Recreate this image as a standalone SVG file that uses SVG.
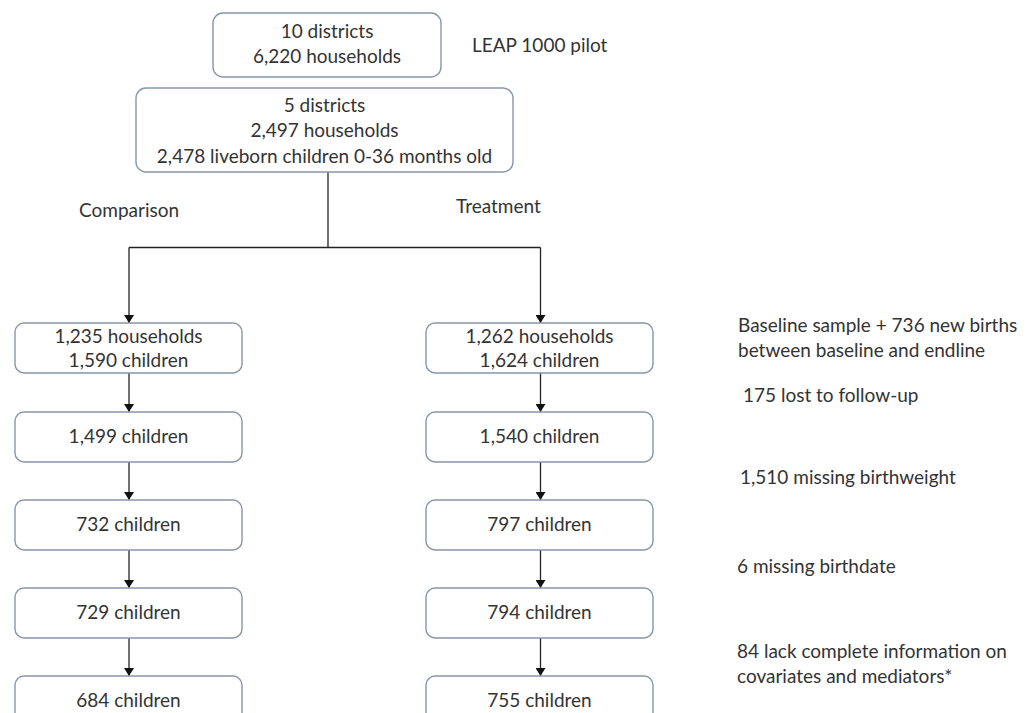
<svg xmlns="http://www.w3.org/2000/svg" width="1030" height="713" viewBox="0 0 1030 713">
<style>
.box{fill:#fff;stroke:#8796a8;stroke-width:1.4}
.t{font-family:Lato,"Liberation Sans",sans-serif;font-size:19px;fill:#333}
.m{text-anchor:middle}
.c{stroke:#222;stroke-width:1.3;fill:none}
</style>
<defs>
<marker id="ah" markerWidth="8" markerHeight="10" refX="8" refY="5" orient="auto" markerUnits="userSpaceOnUse">
<path d="M0,0 L8,5 L0,10 Z" fill="#111"/>
</marker>
</defs>
<rect width="1030" height="713" fill="#fff"/>
<g id="connectors">
<path class="c" d="M328,172 V247.5 M129,247.5 H540.5"/>
<path class="c" d="M129,247.5 V323" marker-end="url(#ah)"/>
<path class="c" d="M540.5,247.5 V323" marker-end="url(#ah)"/>
<path class="c" d="M129,373 V412" marker-end="url(#ah)"/>
<path class="c" d="M540.5,373 V412" marker-end="url(#ah)"/>
<path class="c" d="M129,462 V500" marker-end="url(#ah)"/>
<path class="c" d="M540.5,462 V500" marker-end="url(#ah)"/>
<path class="c" d="M129,550 V588" marker-end="url(#ah)"/>
<path class="c" d="M540.5,550 V588" marker-end="url(#ah)"/>
<path class="c" d="M129,638 V676" marker-end="url(#ah)"/>
<path class="c" d="M540.5,638 V676" marker-end="url(#ah)"/>
</g>
<g id="n-top">
<rect class="box" x="213" y="13" width="228" height="64" rx="10"/>
<text class="t m" x="327" y="38">10 districts</text>
<text class="t m" x="327" y="63">6,220 households</text>
</g>
<g id="n-five">
<rect class="box" x="136" y="88" width="377" height="84" rx="10"/>
<text class="t m" x="324.5" y="112">5 districts</text>
<text class="t m" x="324.5" y="137">2,497 households</text>
<text class="t m" x="324.5" y="163">2,478 liveborn children 0-36 months old</text>
</g>
<g id="lbl-leap"><text class="t" x="472" y="52">LEAP 1000 pilot</text></g>
<g id="lbl-comp"><text class="t" x="79" y="217">Comparison</text></g>
<g id="lbl-treat"><text class="t" x="456" y="213">Treatment</text></g>
<g id="c1">
<rect class="box" x="15" y="323" width="227" height="50" rx="9"/>
<text class="t m" x="128.5" y="343">1,235 households</text>
<text class="t m" x="128.5" y="367">1,590 children</text>
</g>
<g id="t1">
<rect class="box" x="426" y="323" width="227" height="50" rx="9"/>
<text class="t m" x="539.5" y="343">1,262 households</text>
<text class="t m" x="539.5" y="367">1,624 children</text>
</g>
<g id="c2"><rect class="box" x="15" y="412" width="227" height="50" rx="9"/><text class="t m" x="128.5" y="443">1,499 children</text></g>
<g id="t2"><rect class="box" x="426" y="412" width="227" height="50" rx="9"/><text class="t m" x="539.5" y="443">1,540 children</text></g>
<g id="c3"><rect class="box" x="15" y="500" width="227" height="50" rx="9"/><text class="t m" x="128.5" y="531">732 children</text></g>
<g id="t3"><rect class="box" x="426" y="500" width="227" height="50" rx="9"/><text class="t m" x="539.5" y="531">797 children</text></g>
<g id="c4"><rect class="box" x="15" y="588" width="227" height="50" rx="9"/><text class="t m" x="128.5" y="619">729 children</text></g>
<g id="t4"><rect class="box" x="426" y="588" width="227" height="50" rx="9"/><text class="t m" x="539.5" y="619">794 children</text></g>
<g id="c5"><rect class="box" x="15" y="676" width="227" height="50" rx="9"/><text class="t m" x="128.5" y="707">684 children</text></g>
<g id="t5"><rect class="box" x="426" y="676" width="227" height="50" rx="9"/><text class="t m" x="539.5" y="707">755 children</text></g>
<g id="notes">
<text class="t" x="738" y="332">Baseline sample + 736 new births</text>
<text class="t" x="738" y="357">between baseline and endline</text>
<text class="t" x="743" y="402">175 lost to follow-up</text>
<text class="t" x="740" y="484">1,510 missing birthweight</text>
<text class="t" x="737" y="573">6 missing birthdate</text>
<text class="t" x="737" y="658">84 lack complete information on</text>
<text class="t" x="737" y="683">covariates and mediators*</text>
</g>
</svg>
